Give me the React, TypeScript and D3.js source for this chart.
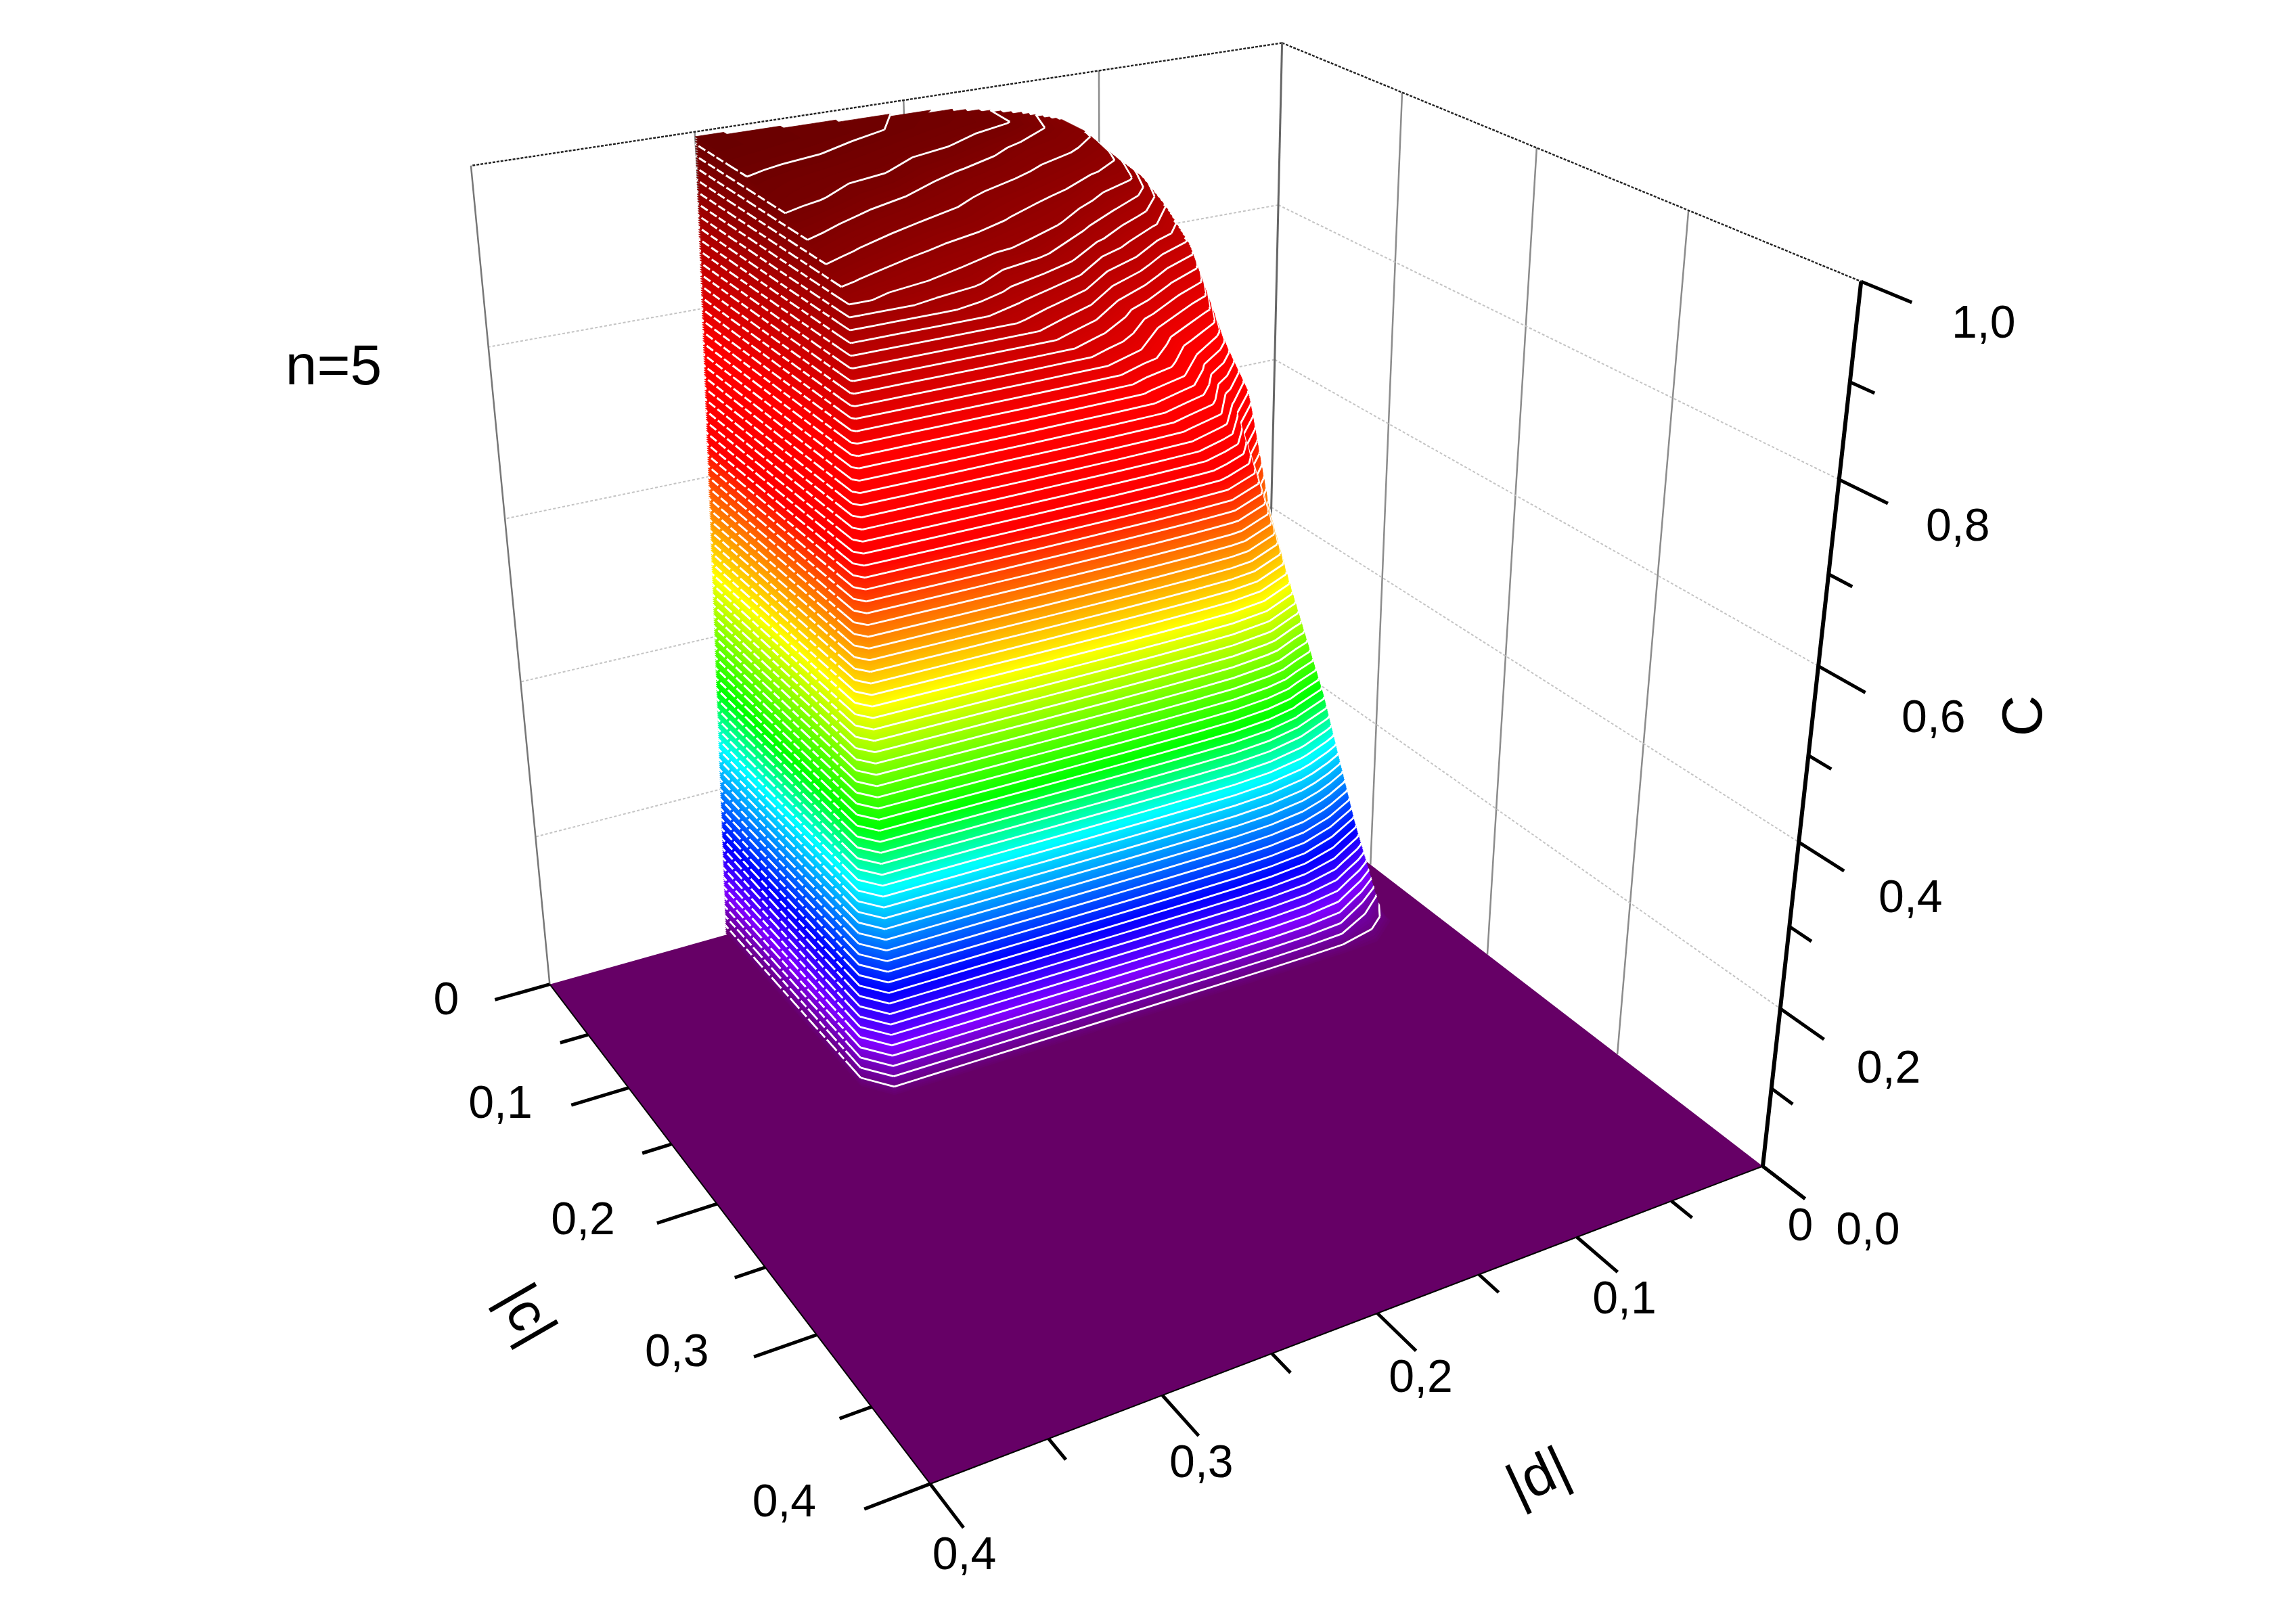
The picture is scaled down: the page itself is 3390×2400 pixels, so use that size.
import React from 'react'
import * as d3 from 'd3'

const WIDTH = 3390
const HEIGHT = 2400

// picture positions of seven box corners, used to calibrate the camera: [c, d, C, px, py]
const boxAnchors = [
  [0, 0, 0, 1870, 1155],
  [0.4, 0, 0, 2604, 1726],
  [0.4, 0.4, 0, 1375, 2191],
  [0, 0.4, 0, 812, 1457],
  [0, 0.4, 1, 696, 244],
  [0, 0, 1, 1894, 65],
  [0.4, 0, 1, 2751, 415],
]

// surface nodes, null = outside the surface
const cNodes = [0, 0.021, 0.04, 0.061, 0.082, 0.102, 0.122, 0.142, 0.152, 0.166]
const dNodes = [0.022, 0.04, 0.06, 0.08, 0.1, 0.12, 0.14, 0.16, 0.18, 0.2, 0.22, 0.24, 0.26, 0.28, 0.29, 0.3, 0.31]
const rowA = [0, 0.2, 0.48, 0.75, 0.905, 0.95, 0.965, 0.975, 0.983, 0.986, 0.988, 0.99, 0.992, 0.994, 0.995, 0.997, 0]
const rowB = [0, 0.2, 0.48, 0.75, 0.905, 0.95, 0.96, 0.975, 0.98, 0.983, 0.9867, 0.99, 0.992, 0.994, 0.995, 0.996, 0]
const rowC = [0, 0.2, 0.48, 0.75, 0.9, 0.94, 0.95, 0.955, 0.966, 0.975, 0.979, 0.983, 0.987, 0.989, 0.99, 0.991, 0]
const rowD = [0, 0.2, 0.48, 0.75, 0.88, 0.925, 0.936, 0.943, 0.951, 0.958, 0.965, 0.975, 0.978, 0.981, 0.983, 0.985, 0]
const rowE = [0, 0.2, 0.46, 0.72, 0.85, 0.885, 0.91, 0.93, 0.9365, 0.943, 0.952, 0.96, 0.966, 0.975, 0.977, 0.98, 0]
const rowF = [0, 0.2, 0.44, 0.68, 0.78, 0.82, 0.87, 0.9, 0.925, 0.932, 0.94, 0.945, 0.952, 0.96, 0.965, 0.968, 0]
const rowG = [0, 0.2, 0.39, 0.55, 0.69, 0.76, 0.8, 0.84, 0.89, 0.915, 0.924, 0.93, 0.937, 0.945, 0.95, 0.955, 0]
const rowH = [0, 0.14, 0.32, 0.47, 0.62, 0.71, 0.765, 0.8, 0.83, 0.86, 0.885, 0.9125, 0.92, 0.928, 0.932, 0.9375, 0]
const rowI = [0, 0.03, 0.15, 0.3, 0.47, 0.62, 0.693, 0.75, 0.797, 0.83, 0.862, 0.882, 0.9, 0.912, 0.92, 0.925, 0]
const rowJ = [null, 0, 0, 0, 0, 0, 0, 0, 0, 0, 0, 0, 0, 0, 0, 0, null]
const surfaceRows = [rowA, rowB, rowC, rowD, rowE, rowF, rowG, rowH, rowI, rowJ]

// 75 white contour lines, each split into five fill steps so the sides stay smooth
const FILL_STEPS = 375
const CONTOUR_EVERY = 5
const fillLevels = d3.range(FILL_STEPS).map((i) => i / FILL_STEPS)

const colorStops = [0, 0.062, 0.133, 0.26, 0.335, 0.48, 0.64, 0.76, 1]
const colorValues = ['#660066', '#7f00ff', '#0000ff', '#00ffff', '#00ff00', '#ffff00', '#ff0000', '#ff0000', '#660000']

const cdTicks = [0, 0.05, 0.1, 0.15, 0.2, 0.25, 0.3, 0.35, 0.4]
const zTicks = [0, 0.1, 0.2, 0.3, 0.4, 0.5, 0.6, 0.7, 0.8, 0.9, 1]
const wallCdGrid = [0.1, 0.2, 0.3]
const wallZGrid = [0.2, 0.4, 0.6, 0.8]

const FONT = '"Liberation Sans", Arial, sans-serif'

// small least squares fit of a 3x4 camera matrix
function fitCamera(anchors) {
  const rows = []
  const rhs = []
  anchors.forEach(([c, d, z, px, py]) => {
    const X = c / 0.4
    const Y = d / 0.4
    const u = px / 1000
    const v = py / 1000
    rows.push([X, Y, z, 1, 0, 0, 0, 0, -u * X, -u * Y, -u * z])
    rhs.push(u)
    rows.push([0, 0, 0, 0, X, Y, z, 1, -v * X, -v * Y, -v * z])
    rhs.push(v)
  })
  const n = 11
  const m = d3.range(n).map((i) =>
    d3.range(n + 1).map((j) =>
      j < n ? d3.sum(rows, (r) => r[i] * r[j]) : d3.sum(rows, (r, k) => r[i] * rhs[k]),
    ),
  )
  for (let i = 0; i < n; i++) {
    let best = i
    for (let k = i + 1; k < n; k++) if (Math.abs(m[k][i]) > Math.abs(m[best][i])) best = k
    ;[m[i], m[best]] = [m[best], m[i]]
    for (let k = 0; k < n; k++) {
      if (k === i) continue
      const f = m[k][i] / m[i][i]
      for (let j = i; j <= n; j++) m[k][j] -= f * m[i][j]
    }
  }
  return m.map((r, i) => r[n] / r[i])
}

const cam = fitCamera(boxAnchors)
const cScale = d3.scaleLinear([0, 0.4], [0, 1])
const dScale = d3.scaleLinear([0, 0.4], [0, 1])
const zScale = d3.scaleLinear([0, 1], [0, 1])

function project(c, d, z) {
  const X = cScale(c)
  const Y = dScale(d)
  const Z = zScale(z)
  const w = cam[8] * X + cam[9] * Y + cam[10] * Z + 1
  return [
    (1000 * (cam[0] * X + cam[1] * Y + cam[2] * Z + cam[3])) / w,
    (1000 * (cam[4] * X + cam[5] * Y + cam[6] * Z + cam[7])) / w,
  ]
}

const colIndex = d3.scaleLinear(d3.range(dNodes.length), dNodes)
const rowIndex = d3.scaleLinear(d3.range(cNodes.length), cNodes)
const flatValues = surfaceRows.flat()
const contourGen = d3.contours().size([dNodes.length, cNodes.length]).smooth(true)
const color = d3.scaleLinear(colorStops, colorValues)
const line = d3.line()
const leftFaceCol = dNodes.length - 2

function toGrid(pt) {
  return [
    Math.max(0, Math.min(dNodes.length - 1, pt[0] - 0.5)),
    Math.max(0, Math.min(cNodes.length - 1, pt[1] - 0.5)),
  ]
}

function ringFill(ring, level) {
  const pts = ring.map((pt) => {
    const [col, row] = toGrid(pt)
    return project(rowIndex(row), colIndex(col), level)
  })
  return line(pts) + 'Z'
}

// contour line without the part on the c=0 border; the steep left face is kept apart for its dashes
function ringStroke(ring, level) {
  let front = ''
  let left = ''
  for (let i = 1; i < ring.length; i++) {
    const a = toGrid(ring[i - 1])
    const b = toGrid(ring[i])
    if (a[1] === 0 && b[1] === 0) continue
    if (a[0] === 0 && b[0] === 0) continue
    const s = line([
      project(rowIndex(a[1]), colIndex(a[0]), level),
      project(rowIndex(b[1]), colIndex(b[0]), level),
    ])
    if (a[0] >= leftFaceCol && b[0] >= leftFaceCol && a[1] < cNodes.length - 2) left += s
    else front += s
  }
  return { front, left }
}

function Surface() {
  const bands = fillLevels.map((level, i) => {
    const rings = contourGen.contour(flatValues, level).coordinates.flat()
    const lines = i % CONTOUR_EVERY === 0 ? rings.map((r) => ringStroke(r, level)) : []
    return {
      level,
      fill: rings.map((r) => ringFill(r, level)).join(''),
      front: lines.map((l) => l.front).join(''),
      left: lines.map((l) => l.left).join(''),
    }
  })
  return (
    <g>
      {bands.map((b) => (
        <g key={b.level}>
          <path d={b.fill} fill={color(b.level)} fillRule="evenodd" stroke={color(b.level)} strokeWidth="0.8" />
          {b.front && <path d={b.front} fill="none" stroke="#fff" strokeWidth="2.8" />}
          {b.left && <path d={b.left} fill="none" stroke="#fff" strokeWidth="3" strokeDasharray="12 4" />}
        </g>
      ))}
    </g>
  )
}

function Wall({ along }) {
  const pt = (t, z) => (along === 'd' ? project(0, t, z) : project(t, 0, z))
  return (
    <g>
      {wallCdGrid.map((t) => (
        <path key={t} d={line([pt(t, 0), pt(t, 1)])} stroke="#8c8c8c" strokeWidth="2.5" fill="none" />
      ))}
      {wallZGrid.map((z) => (
        <path
          key={z}
          d={line([pt(0, z), pt(0.4, z)])}
          stroke="#c4c4c4"
          strokeWidth="2"
          strokeDasharray="4 3"
          fill="none"
        />
      ))}
      <path d={line([pt(0, 1), pt(0.4, 1)])} stroke="#222" strokeWidth="2.4" strokeDasharray="4 2" fill="none" />
    </g>
  )
}

const TICK = 0.027

function Axes() {
  const lbl = (txt, x, y, key, anchor = 'middle') => (
    <text key={key} x={x} y={y} fontFamily={FONT} fontSize="68" textAnchor={anchor} dominantBaseline="central">
      {txt}
    </text>
  )
  const fmt = d3.format('.1f')
  const comma = (v) => (v === 0 ? '0' : fmt(v).replace('.', ','))
  return (
    <g stroke="#000" fill="none">
      <path d={line([project(0, 0.4, 0), project(0.4, 0.4, 0)])} strokeWidth="2" />
      <path d={line([project(0.4, 0, 0), project(0.4, 0.4, 0)])} strokeWidth="2" />
      <path d={line([project(0.4, 0, 0), project(0.4, 0, 1)])} strokeWidth="6" />
      {cdTicks.map((t, i) => {
        const len = i % 2 === 0 ? TICK : TICK / 2
        return (
          <g key={t} strokeWidth="5">
            <path d={line([project(t, 0.4, 0), project(t, 0.4 + len, 0)])} />
            <path d={line([project(0.4, t, 0), project(0.4 + len, t, 0)])} />
          </g>
        )
      })}
      {zTicks.map((z, i) => {
        const len = i % 2 === 0 ? TICK : TICK / 2
        return (
          <path key={z} strokeWidth="5" d={line([project(0.4, 0, z), project(0.4 + len, 0, z)])} />
        )
      })}
      <g stroke="none" fill="#000">
        {cdTicks
          .filter((_, i) => i % 2 === 0)
          .map((t) => {
            const [x, y] = project(t, 0.4 + TICK, 0)
            return lbl(comma(t), x - (53 + t * 45), y - 2 - t * 27, 'c' + t, 'end')
          })}
        {cdTicks
          .filter((_, i) => i % 2 === 0)
          .map((t) => {
            const [x, y] = project(0.4 + TICK, t, 0)
            return lbl(comma(t), x + (t === 0 ? -7 : 13 - 30 * t), y + 37, 'd' + t)
          })}
        {zTicks
          .filter((_, i) => i % 2 === 0)
          .map((z) => {
            const [x, y] = project(0.4 + TICK, 0, z)
            return lbl(fmt(z).replace('.', ','), x + 93 + 13 * z, y + 43 - 15 * z, 'z' + z)
          })}
      </g>
    </g>
  )
}

export default function App() {
  const floor = line([project(0, 0, 0), project(0.4, 0, 0), project(0.4, 0.4, 0), project(0, 0.4, 0)]) + 'Z'
  const frameLeft = line([project(0, 0.4, 0), project(0, 0.4, 1)])
  const frameBack = line([project(0, 0, 0), project(0, 0, 1)])
  return (
    <svg width={WIDTH} height={HEIGHT} style={{ position: 'absolute', left: 0, top: 0, background: '#fff' }}>
      <Wall along="d" />
      <Wall along="c" />
      <path d={frameLeft} stroke="#777" strokeWidth="2.5" fill="none" />
      <path d={frameBack} stroke="#666" strokeWidth="3" fill="none" />
      <path d={floor} fill={colorValues[0]} />
      <Surface />
      <Axes />
      <g fontFamily={FONT} fontSize="84" fill="#000" textAnchor="middle" dominantBaseline="central">
        <text x="493" y="539">n=5</text>
        <text transform="translate(780,1941) rotate(60)">|c|</text>
        <text transform="translate(2272,2180) rotate(-25)">|d|</text>
        <text transform="translate(2988,1058) rotate(-90)">C</text>
      </g>
    </svg>
  )
}
